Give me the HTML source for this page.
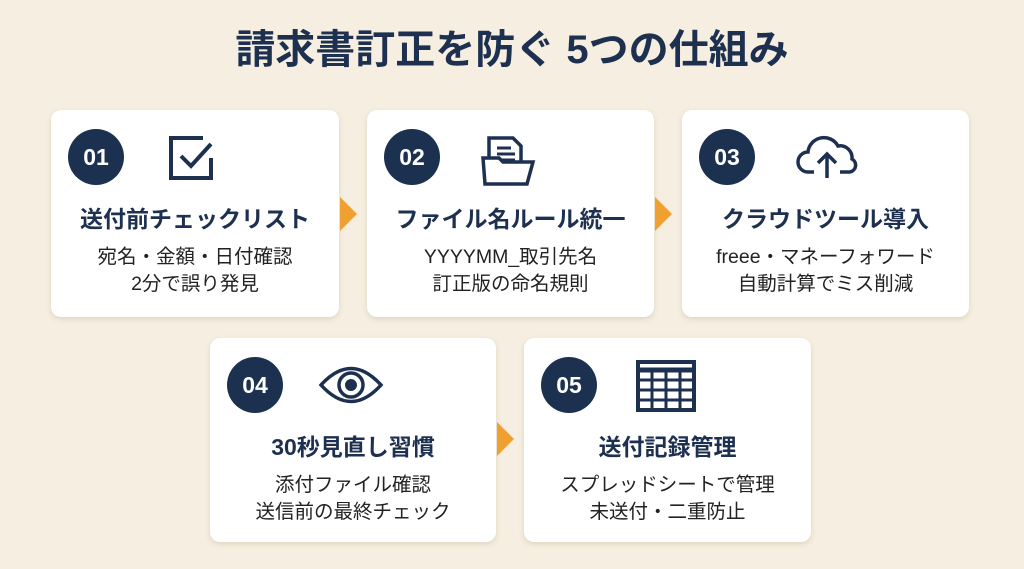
<!DOCTYPE html>
<html><head><meta charset="utf-8"><style>
body{margin:0;width:1024px;height:569px;background:#f6efe1;font-family:"Liberation Sans","Noto Sans CJK JP",sans-serif;position:relative;overflow:hidden}
h1{position:absolute;top:24px;left:0;width:1024px;margin:0;text-align:center;font-size:40px;font-weight:bold;color:#1d3050;line-height:52px}
.card{position:absolute;background:#fff;border-radius:10px;box-shadow:0 2px 6px rgba(120,100,60,.2)}
.num{position:absolute;left:17px;top:19px;width:56px;height:56px;border-radius:50%;background:#1c3050;color:#fff;font-weight:bold;font-size:23px;line-height:56px;text-align:center}
.ic{position:absolute;left:112px;top:22px}
.t{position:absolute;left:0;right:0;top:90px;text-align:center;font-size:23px;font-weight:bold;color:#1d3050}
.d{position:absolute;left:0;right:0;top:134px;text-align:center;font-size:19.5px;line-height:27px;color:#222}
.ar{position:absolute;width:0;height:0;border-top:17px solid transparent;border-bottom:17px solid transparent;border-left:17px solid #f0a030}
</style></head><body>
<h1>請求書訂正を防ぐ 5つの仕組み</h1>

<div class="card" style="left:51px;top:110px;width:288px;height:207px">
<div class="num">01</div>
<svg class="ic" width="60" height="52" viewBox="0 0 60 52"><path d="M40 6H8v40h40V26" fill="none" stroke="#1d3050" stroke-width="4"/><path d="M18 24l10 10 20-22" fill="none" stroke="#1d3050" stroke-width="4"/></svg>
<div class="t">送付前チェックリスト</div>
<div class="d">宛名・金額・日付確認<br>2分で誤り発見</div></div>
<div class="ar" style="left:340px;top:197px"></div>

<div class="card" style="left:367px;top:110px;width:287px;height:207px">
<div class="num">02</div>
<svg class="ic" width="64" height="56" viewBox="0 0 64 56"><path d="M10 50V6h24l8 8v20" fill="none" stroke="#1d3050" stroke-width="3.5"/><path d="M18 16h14M18 22h18M18 28h18" stroke="#1d3050" stroke-width="3"/><path d="M4 26h16l4 4h30l-6 22H6z" fill="#fff" stroke="#1d3050" stroke-width="3.5"/></svg>
<div class="t">ファイル名ルール統一</div>
<div class="d">YYYYMM_取引先名<br>訂正版の命名規則</div></div>
<div class="ar" style="left:655px;top:197px"></div>

<div class="card" style="left:682px;top:110px;width:287px;height:207px">
<div class="num">03</div>
<svg class="ic" width="70" height="52" viewBox="0 0 70 52"><path d="M20 40H14a10 10 0 0 1 0-20 16 16 0 0 1 30-6 12 12 0 0 1 14 13 7 7 0 0 1-2 13H46" fill="none" stroke="#1d3050" stroke-width="3.5"/><path d="M33 46V22M24 31l9-9 9 9" fill="none" stroke="#1d3050" stroke-width="3.5"/></svg>
<div class="t">クラウドツール導入</div>
<div class="d">freee・マネーフォワード<br>自動計算でミス削減</div></div>

<div class="card" style="left:210px;top:338px;width:286px;height:204px">
<div class="num">04</div>
<svg class="ic" width="66" height="50" viewBox="0 0 66 50" style="left:108px"><path d="M3 25Q33-8 63 25Q33 58 3 25z" fill="none" stroke="#1d3050" stroke-width="3.5"/><circle cx="33" cy="25" r="12" fill="none" stroke="#1d3050" stroke-width="3.5"/><circle cx="33" cy="25" r="6" fill="#1d3050"/></svg>
<div class="t">30秒見直し習慣</div>
<div class="d">添付ファイル確認<br>送信前の最終チェック</div></div>
<div class="ar" style="left:497px;top:422px"></div>

<div class="card" style="left:524px;top:338px;width:287px;height:204px">
<div class="num">05</div>
<svg class="ic" width="60" height="54" viewBox="0 0 60 54"><rect x="2" y="2" width="56" height="48" fill="none" stroke="#1d3050" stroke-width="4"/><path d="M2 10h56" stroke="#1d3050" stroke-width="5"/><path d="M2 20h56M2 30h56M2 40h56M16 10v40M30 10v40M44 10v40" stroke="#1d3050" stroke-width="3"/></svg>
<div class="t">送付記録管理</div>
<div class="d">スプレッドシートで管理<br>未送付・二重防止</div></div>
</body></html>
